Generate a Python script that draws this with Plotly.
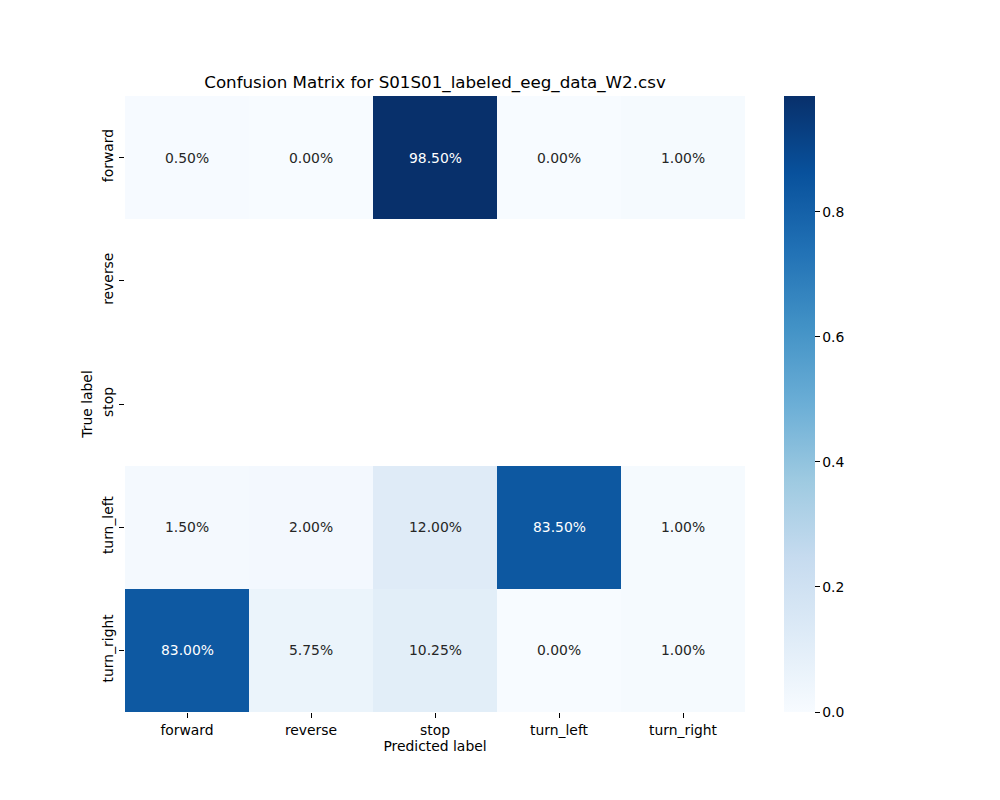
import plotly.graph_objects as go

labels = ["forward", "reverse", "stop", "turn_left", "turn_right"]
z_values = [
    [0.005, 0.00, 0.985, 0.00, 0.01],
    [None, None, None, None, None],
    [None, None, None, None, None],
    [0.015, 0.02, 0.12, 0.835, 0.01],
    [0.83, 0.0575, 0.1025, 0.00, 0.01],
]
title = "Confusion Matrix for S01S01_labeled_eeg_data_W2.csv"

blues = ["#f7fbff", "#deebf7", "#c6dbef", "#9ecae1", "#6baed6",
         "#4292c6", "#2171b5", "#08519c", "#08306b"]
colorscale = [[i / 8, c] for i, c in enumerate(blues)]

vals = [v for row in z_values for v in row if v is not None]
zmin, zmax = min(vals), max(vals)

FONT = "DejaVu Sans"
OFF = 8  # page body margin
L, T = 125 - OFF, 96 - OFF
PW, PH = 620, 616

fig = go.Figure()
fig.add_trace(go.Heatmap(
    z=z_values, x=labels, y=labels,
    colorscale=colorscale, zmin=zmin, zmax=zmax,
    xgap=0, ygap=0, hoverongaps=False,
    colorbar=dict(
        x=(784 - 125) / PW, xanchor="left", xref="paper",
        y=0.5, yanchor="middle", len=1.0, lenmode="fraction",
        xpad=0, ypad=0,
        thickness=31, thicknessmode="pixels",
        outlinewidth=0, ticks="outside", ticklen=5, tickwidth=1,
        tickcolor="black", tickformat=".1f", dtick=0.2, tick0=0,
        tickfont=dict(family=FONT, size=13.9, color="black"),
    ),
))

annotations = []
for i, row in enumerate(z_values):
    for j, v in enumerate(row):
        if v is None:
            continue
        frac = (v - zmin) / (zmax - zmin)
        color = "white" if frac > 0.6 else "#262626"
        annotations.append(dict(
            x=labels[j], y=labels[i], text=f"{v*100:.2f}%", showarrow=False,
            font=dict(family=FONT, size=13.9, color=color),
        ))

fig.update_layout(
    width=1000, height=800,
    margin=dict(l=L, r=1000 - L - PW, t=T, b=800 - T - PH, autoexpand=False),
    paper_bgcolor="white", plot_bgcolor="white",
    font=dict(family=FONT, size=13.9, color="black"),
    title=dict(text=title, x=(L + PW / 2) / 1000, xanchor="center",
               y=1 - (82 - OFF) / 800, yanchor="middle",
               font=dict(family=FONT, size=16.7, color="black")),
    annotations=annotations,
    xaxis=dict(
        title=dict(text="Predicted label", font=dict(family=FONT, size=13.9), standoff=4),
        ticks="outside", ticklen=5, tickcolor="black", showgrid=False, zeroline=False,
        showline=False, tickfont=dict(family=FONT, size=13.9),
    ),
    yaxis=dict(
        title=dict(text="True label", font=dict(family=FONT, size=13.9), standoff=4),
        ticks="outside", ticklen=5, tickcolor="black", showgrid=False, zeroline=False,
        showline=False, autorange="reversed", tickangle=-90,
        tickfont=dict(family=FONT, size=13.9),
    ),
)

fig.write_html("out.html")
